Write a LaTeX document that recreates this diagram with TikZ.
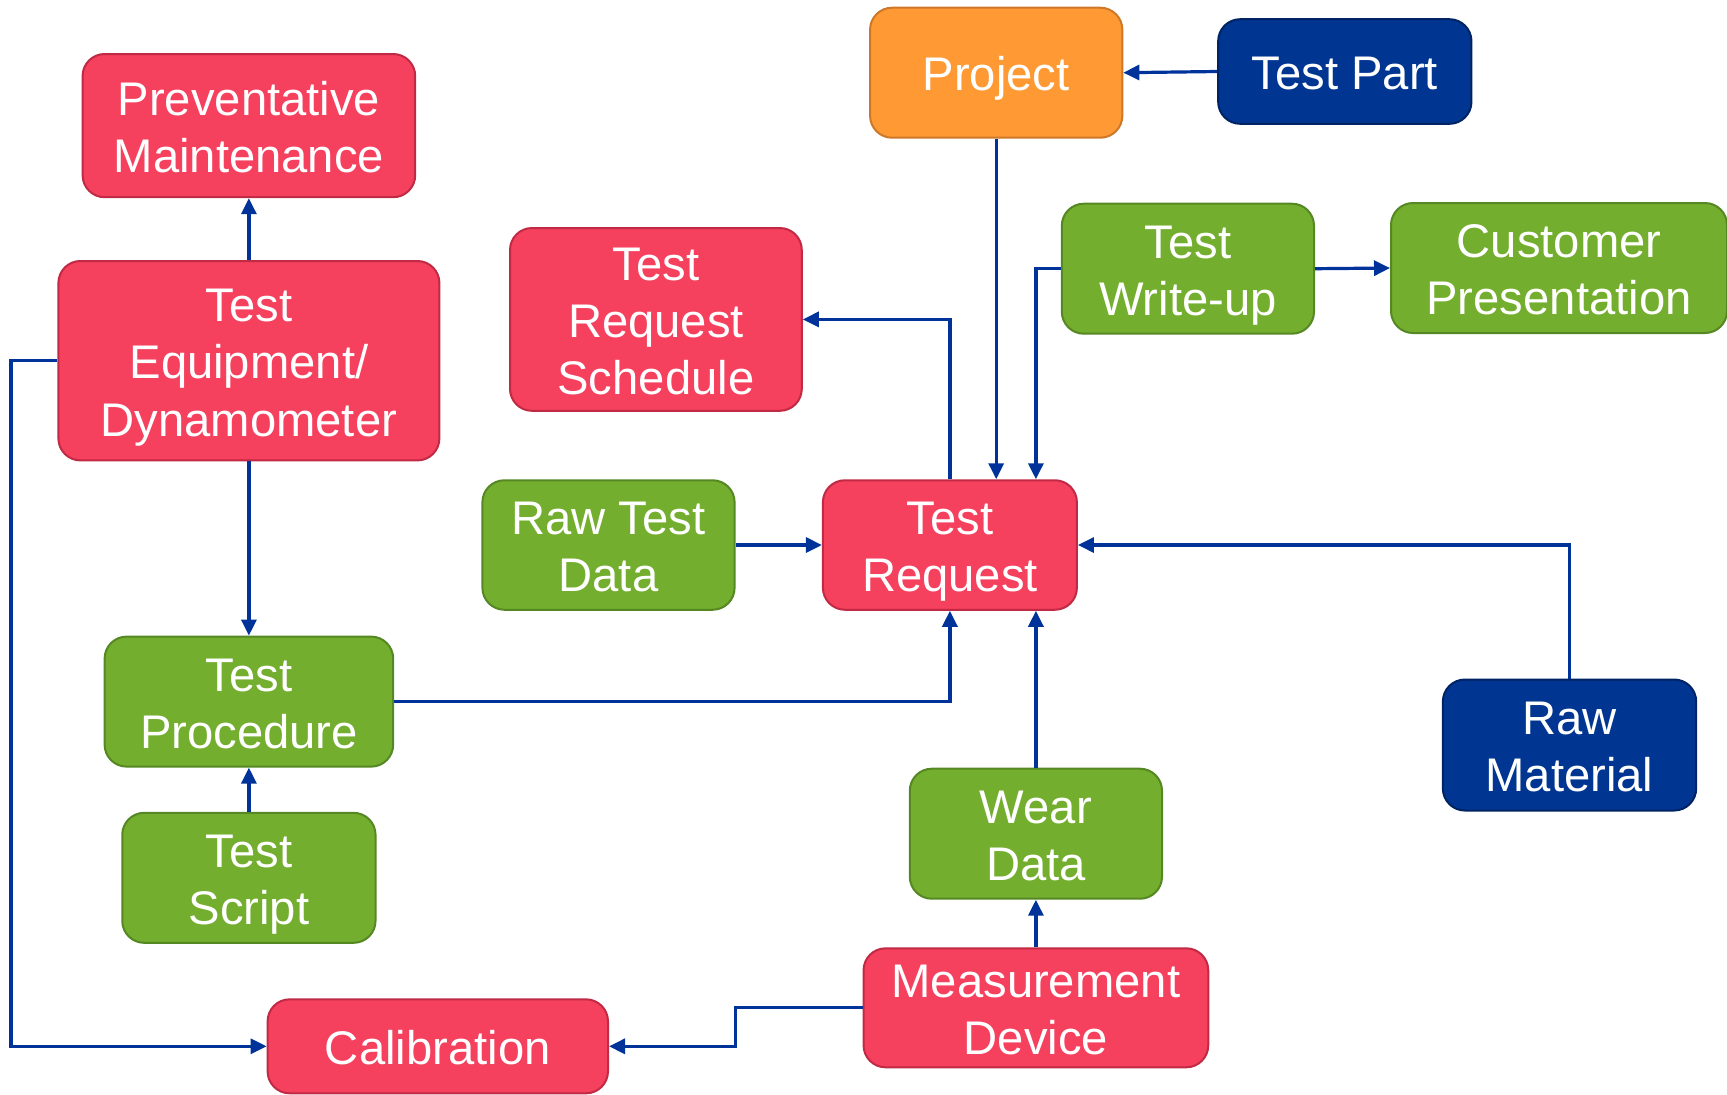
\documentclass[tikz,border=0pt]{standalone}
\usepackage{fontspec}
\setmainfont{Liberation Sans}
\usetikzlibrary{arrows.meta}
\definecolor{redF}{RGB}{245,64,94}
\definecolor{redB}{RGB}{192,42,68}
\definecolor{grnF}{RGB}{115,174,46}
\definecolor{grnB}{RGB}{85,135,35}
\definecolor{orgF}{RGB}{255,153,51}
\definecolor{orgB}{RGB}{205,120,40}
\definecolor{navF}{RGB}{0,53,145}
\definecolor{navB}{RGB}{0,35,100}
\definecolor{lineC}{RGB}{0,51,153}
\newcommand{\boxlbl}[1]{\raisebox{-3.35pt}[\height][\depth]{\begin{tabular}{@{}c@{}}#1\end{tabular}}}
\begin{document}
\begin{tikzpicture}[x=0.5pt,y=-0.5pt,
  box/.style={rounded corners=11pt, line width=1pt, text=white, align=center, inner sep=0pt,
    font=\fontsize{23.6}{28.6}\selectfont},
  sz/.style 2 args={minimum width=#1*0.5pt, minimum height=#2*0.5pt},
  redbox/.style={box, fill=redF, draw=redB},
  grnbox/.style={box, fill=grnF, draw=grnB},
  orgbox/.style={box, fill=orgF, draw=orgB},
  navbox/.style={box, fill=navF, draw=navB},
  conn/.style={draw=lineC, line width=1.6pt, -{Triangle[length=8pt,width=7.5pt]}}
]
\useasboundingbox (0,0) rectangle (1727,1094);
% nodes
\node[redbox, sz={332.6}{143.2}] (PM) at (248.9,125.6) {\boxlbl{Preventative\\Maintenance}};
\node[redbox, sz={381}{199.4}] (TE) at (248.9,360.7) {\boxlbl{Test\\Equipment/\\Dynamometer}};
\node[redbox, sz={291.8}{182.8}] (TRS) at (655.9,319.4) {\boxlbl{Test\\Request\\Schedule}};
\node[orgbox, sz={252.3}{130}] (Proj) at (996.2,72.7) {\boxlbl{Project}};
\node[navbox, sz={253.3}{104.6}] (TPart) at (1344.8,71.5) {\boxlbl{Test Part}};
\node[grnbox, sz={252.2}{130}] (TWU) at (1187.9,268.7) {\boxlbl{Test\\Write-up}};
\node[grnbox, sz={336}{130}] (CP) at (1559,268) {\boxlbl{Customer\\Presentation}};
\node[grnbox, sz={252.2}{129.5}] (RTD) at (608.5,545) {\boxlbl{Raw Test\\Data}};
\node[redbox, sz={254}{129.5}] (TR) at (949.9,545) {\boxlbl{Test\\Request}};
\node[grnbox, sz={288.6}{130}] (TP) at (248.9,701.6) {\boxlbl{Test\\Procedure}};
\node[grnbox, sz={253.3}{130}] (TS) at (248.9,877.8) {\boxlbl{Test\\Script}};
\node[grnbox, sz={252.2}{130}] (WD) at (1035.9,833.7) {\boxlbl{Wear\\Data}};
\node[navbox, sz={253.3}{131}] (RM) at (1569.5,745) {\boxlbl{Raw\\Material}};
\node[redbox, sz={344.7}{119}] (MD) at (1035.9,1007.8) {\boxlbl{Measurement\\Device}};
\node[redbox, sz={340.4}{94}] (Cal) at (437.8,1046.3) {\boxlbl{Calibration}};
% helper coordinates
\coordinate (L1) at (11,360.7);
\coordinate (M1) at (735.7,1007.8);
% connectors
\draw[conn] (TE.north) -- (PM.south);
\draw[conn] (TE.south) -- (TP.north);
\draw[conn] (TS.north) -- (TP.south);
\draw[conn] (TE.west) -- (L1) |- (Cal.west);
\draw[conn] (MD.west) -- (M1) |- (Cal.east);
\draw[conn] (MD.north) -- (WD.south);
\draw[conn] (WD.north) -- (WD.north |- TR.south);
\draw[conn] (TP.east) -| (TR.south);
\draw[conn] (RTD.east) -- (TR.west);
\draw[conn] (RM.north) |- (TR.east);
\draw[conn] (TR.north) |- (TRS.east);
\draw[conn] (Proj.south) -- (Proj.south |- TR.north);
\draw[conn] (TWU.west) -| (WD.north |- TR.north);
\draw[conn] (TWU.east) -- (CP.west);
\draw[conn] (TPart.west) -- (Proj.east);
\end{tikzpicture}
\end{document}
